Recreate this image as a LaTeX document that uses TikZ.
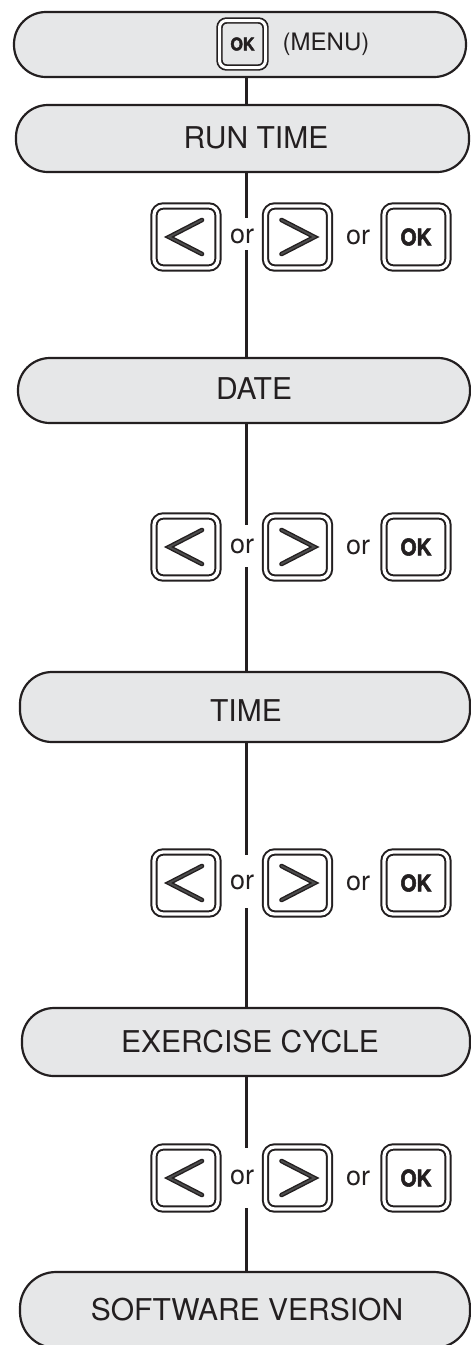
\documentclass[tikz,border=0pt]{standalone}
\usepackage{fontspec}
\setmainfont{TeX Gyre Heros}
\newfontfamily\okfont{TeX Gyre Heros}[BoldFeatures={FakeBold=2.5}]
\definecolor{pillgray}{HTML}{E6E7E8}
\definecolor{ink}{HTML}{231F20}
\newcommand{\pillfont}{\fontsize{30}{34}\selectfont}
\newcommand{\orfont}{\fontsize{27}{30}\selectfont}
\newcommand{\okglyph}{\scalebox{0.9}[1]{\fontsize{23}{26}\selectfont\okfont\bfseries OK}}
\newcommand{\oksmall}{\scalebox{0.92}[1]{\fontsize{17.5}{20}\selectfont\okfont\bfseries OK}}
\begin{document}
\begin{tikzpicture}[x=1pt,y=-1pt,
  pill/.style={draw=ink, line width=2.2pt, fill=pillgray, rounded corners=32pt, inner sep=0pt},
  pilltext/.style={text=ink, font=\pillfont, inner sep=0pt},
  btn/.style={draw=ink, line width=2pt, double=white, double distance=3.3pt, rounded corners=9pt,
              minimum width=64pt, minimum height=62pt, inner sep=0pt, text=ink},
  chev/.style={draw=ink, line width=1.4pt, double=black!70, double distance=1.8pt, line cap=round, line join=miter},
  ortext/.style={text=ink, font=\orfont, inner sep=0pt},
  conn/.style={draw=ink, line width=3pt}]
\useasboundingbox (0,0) rectangle (471,1345);
\fill[white] (0,0) rectangle (471,1345);

% pills
\node[pill, minimum width=452pt, minimum height=65pt] (p1) at (240,44.5) {};
\node[pill, minimum width=453pt, minimum height=67pt] (p2) at (242.5,138.5) {};
\node[pill, minimum width=452pt, minimum height=65pt] (p3) at (244,390.5) {};
\node[pill, minimum width=450pt, minimum height=70pt] (p4) at (245,707) {};
\node[pill, minimum width=448pt, minimum height=68pt] (p5) at (246,1042) {};
\node[pill, minimum width=450pt, minimum height=76pt, rounded corners=36pt] (p6) at (245,1310) {};

% pill contents
\node[btn, fill=pillgray, minimum width=46pt, minimum height=47pt, rounded corners=7pt, line width=1.7pt, double distance=3pt] (k0) at (242.5,44) {\oksmall};
\node[text=ink, font=\fontsize{24}{28}\selectfont, inner sep=0pt] (menu) at (326,44) {(MENU)};
\node[pilltext] (t2) at (256,138) {RUN TIME};
\node[pilltext] (t3) at (254,389) {DATE};
\node[pilltext] (t4) at (246,711) {TIME};
\node[pilltext] (t5) at (250,1042) {EXERCISE CYCLE};
\node[pilltext] (t6) at (247,1310) {SOFTWARE VERSION};

% button rows
\foreach \i/\yy in {1/237, 2/547, 3/883, 4/1178}{
  \node[btn] (l\i) at (186,\yy) {};
  \node[btn] (r\i) at (297.5,\yy) {};
  \node[btn] (k\i) at (416,\yy) {\okglyph};
  \draw[chev] ([shift={(16,-17)}]l\i.center) -- ([shift={(-17,0)}]l\i.center) -- ([shift={(16,17)}]l\i.center);
  \draw[chev] ([shift={(-16,-17)}]r\i.center) -- ([shift={(17,0)}]r\i.center) -- ([shift={(-16,17)}]r\i.center);
  \node[ortext] (oa\i) at (242,\yy-1) {or};
  \node[ortext] (ob\i) at (358,\yy) {or};
}

% gap coordinates
\coordinate (g1a) at (246,218); \coordinate (g1b) at (246,250);
\coordinate (g2a) at (246,525); \coordinate (g2b) at (246,567);
\coordinate (g3a) at (246,855); \coordinate (g3b) at (246,908);
\coordinate (g4a) at (246,1148); \coordinate (g4b) at (246,1208);

% connectors
\draw[conn] (p1.south -| g1a) -- (p2.north -| g1a);
\draw[conn] (p2.south -| g1a) -- (g1a);
\draw[conn] (g1b) -- (p3.north -| g1b);
\draw[conn] (p3.south -| g2a) -- (g2a);
\draw[conn] (g2b) -- (p4.north -| g2b);
\draw[conn] (p4.south -| g3a) -- (g3a);
\draw[conn] (g3b) -- (p5.north -| g3b);
\draw[conn] (p5.south -| g4a) -- (g4a);
\draw[conn] (g4b) -- (p6.north -| g4b);
\end{tikzpicture}
\end{document}
